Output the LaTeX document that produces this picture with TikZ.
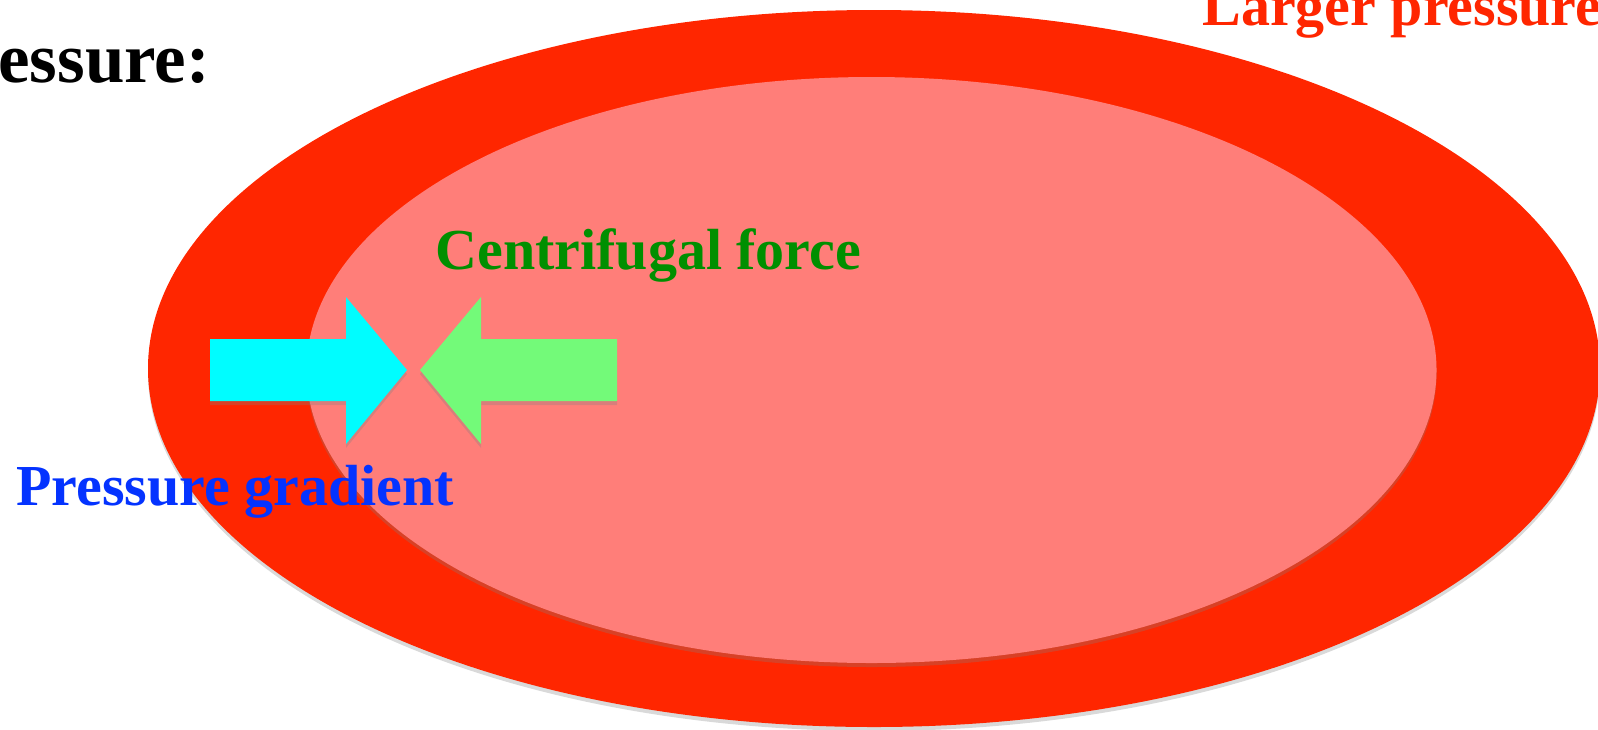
\documentclass[tikz,border=0pt]{standalone}
\usepackage{fontspec}
\setmainfont{Liberation Serif}
\usepackage{tikz}
\usetikzlibrary{shadows}

\definecolor{outerred}{HTML}{FF2600}
\definecolor{innerred}{HTML}{FF7E79}
\definecolor{gradcyan}{HTML}{00FDFF}
\definecolor{forcegreen}{HTML}{73FA79}
\definecolor{textgreen}{HTML}{008F00}
\definecolor{textblue}{HTML}{0433FF}

\tikzset{
  shade/.style={drop shadow={opacity=0.3, shadow xshift=0pt, shadow yshift=-2pt}},
  label/.style={inner sep=0pt, anchor=base west, font=\bfseries\fontsize{29}{29}\selectfont},
}

\begin{document}
\begin{tikzpicture}[x=0.5pt, y=-0.5pt]
            \useasboundingbox (0,0) rectangle (1598,729);
            \clip (0,0) rectangle (1598,729);
            % ellipses
            \fill[outerred, shade] (874,368.5) ellipse [x radius=726, y radius=358.5];
            \fill[innerred, shade] (871.5,370) ellipse [x radius=565, y radius=293];
            % arrows
            \fill[gradcyan, shade] (210,339) -- (346,339) -- (346,297) -- (407,370)
                -- (346,444) -- (346,401) -- (210,401) -- cycle;
            \fill[forcegreen, shade] (617,339) -- (481,339) -- (481,297) -- (420,370)
                -- (481,444) -- (481,401) -- (617,401) -- cycle;
            % labels
            \node[label, font=\bfseries\fontsize{35.5}{35.5}\selectfont] (title) at (-2,82) {essure:};
            \node[label, text=outerred] (larger) at (1202,25) {Larger pressure};
            \node[label, text=textgreen] (centrifugal) at (435,269) {Centrifugal force};
            \node[label, text=textblue] (gradient) at (16,505) {Pressure gradient};
        \end{tikzpicture}
\end{document}
